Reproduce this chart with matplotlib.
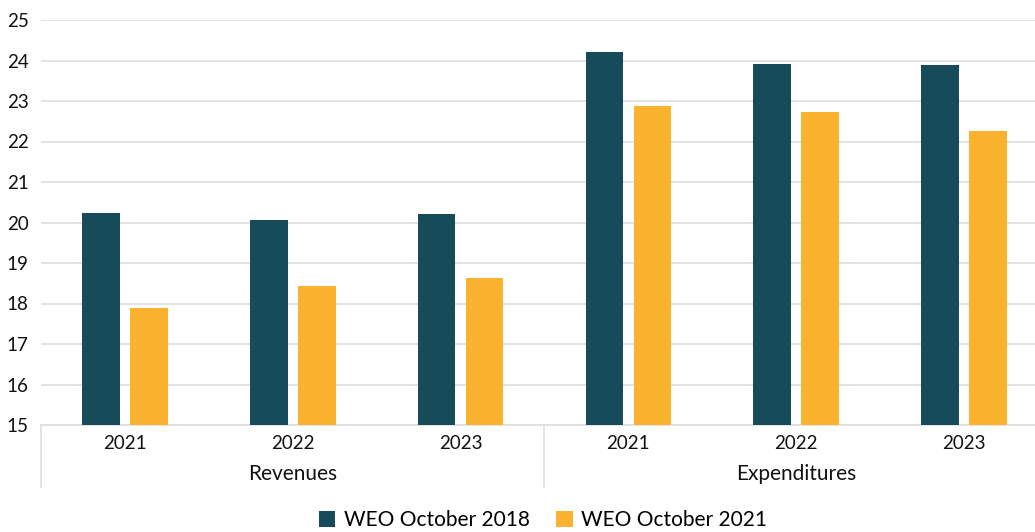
import matplotlib.pyplot as plt
import numpy as np

groups = ["Revenues", "Expenditures"]
years = ["2021", "2022", "2023"]
weo_2018 = [20.23, 20.06, 20.21, 24.21, 23.91, 23.89]
weo_2021 = [17.89, 18.43, 18.63, 22.87, 22.74, 22.27]

plt.rcParams['font.family'] = ['Lato', 'DejaVu Sans']

fig = plt.figure(figsize=(10.35, 5.32), dpi=100)
ax = fig.add_axes([41 / 1035, 1 - 425 / 532, 1007 / 1035, 405 / 532])

x = np.arange(len(weo_2018))
w = 0.225
off = 0.143
ax.bar(x - off, np.array(weo_2018) - 15, w, bottom=15, color="#164B5A", label="WEO October 2018", zorder=3)
ax.bar(x + off, np.array(weo_2021) - 15, w, bottom=15, color="#FBB32F", label="WEO October 2021", zorder=3)

ax.set_ylim(15, 25)
ax.set_xlim(-0.5, 5.5)
ax.set_yticks(range(15, 26))
ax.yaxis.grid(True, color="#DEDEDE", linewidth=1.2, zorder=0)
ax.set_axisbelow(True)
for s in ["top", "right", "left"]:
    ax.spines[s].set_visible(False)
ax.spines["bottom"].set_color("#DEDEDE")
ax.spines["bottom"].set_linewidth(1.2)
ax.tick_params(axis="both", length=0, labelsize=13.5, colors="#111111")
ax.tick_params(axis="x", pad=7)
ax.tick_params(axis="y", pad=9)

ax.set_xticks(x)
ax.set_xticklabels(years * 2)

# group labels and separators
trans = ax.get_xaxis_transform()
for i, g in enumerate(groups):
    ax.text(i * 3 + 1, -0.121, g, transform=trans, ha="center", va="center", fontsize=15, color="#111111")
for xs in [-0.5, 2.5]:
    ax.plot([xs, xs], [0, -0.153], transform=trans, color="#DEDEDE", linewidth=1.2, clip_on=False)

fig.legend(loc="center", bbox_to_anchor=(543 / 1035, 1 - 520 / 532), ncol=2, frameon=False,
           fontsize=15, handlelength=0.8, handleheight=0.8, handletextpad=0.4, columnspacing=1.3)

fig.savefig("out.png", dpi=100)
